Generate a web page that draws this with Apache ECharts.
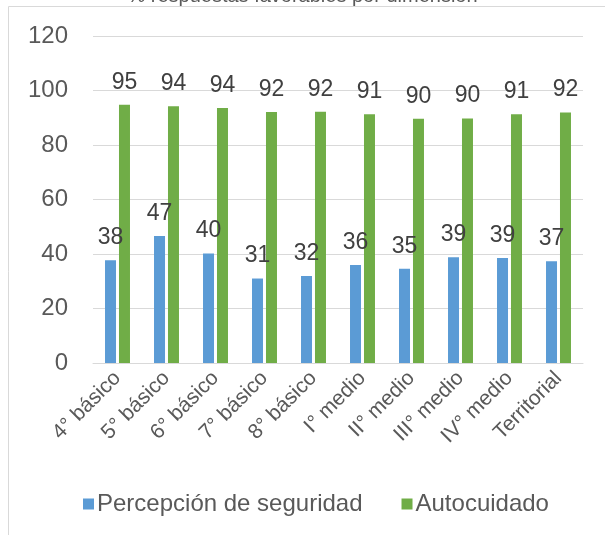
<!DOCTYPE html>
<html>
<head>
<meta charset="utf-8">
<script src="https://cdn.jsdelivr.net/npm/echarts@6/dist/echarts.min.js"></script>
<style>
  html, body { margin: 0; padding: 0; background: #fff; }
  #chart { width: 605px; height: 535px; }
</style>
</head>
<body>
<div id="chart"></div>
<script>
const categories = ['4° básico', '5° básico', '6° básico', '7° básico', '8° básico',
  'I° medio', 'II° medio', 'III° medio', 'IV° medio', 'Territorial'];
const seguridad = [37.7, 46.6, 40.2, 31.0, 31.9, 36.0, 34.6, 38.8, 38.5, 37.3];
const autocuidado = [94.8, 94.2, 93.6, 92.1, 92.2, 91.3, 89.6, 89.7, 91.3, 91.9];
const yTicks = { min: 0, max: 120, interval: 20 };

const font = '"Liberation Sans", Arial, sans-serif';
const chart = echarts.init(document.getElementById('chart'), null, { renderer: 'canvas' });

const labelStyle = {
  show: true,
  position: 'top',
  distance: 11,
  color: '#404040',
  fontSize: 23,
  fontFamily: font,
  formatter: (p) => Math.round(p.value)
};

chart.setOption({
  animation: false,
  title: {
    text: '% respuestas favorables por dimensión',
    left: 'center',
    top: -19,
    textStyle: { color: '#595959', fontSize: 20, fontWeight: 'normal', fontFamily: font }
  },
  graphic: [{
    type: 'rect',
    shape: { x: 8.5, y: 6.5, width: 640, height: 560 },
    style: { fill: 'none', stroke: '#d9d9d9', lineWidth: 1 },
    z: -1
  }],
  grid: { left: 93, right: 22, top: 36, bottom: 172 },
  legend: {
    left: 78,
    top: 487,
    itemWidth: 11,
    itemHeight: 11,
    itemGap: 39,
    icon: 'rect',
    textStyle: { color: '#595959', fontSize: 24, fontFamily: font, padding: [0, 0, 0, -2] },
    data: ['Percepción de seguridad', 'Autocuidado']
  },
  xAxis: {
    type: 'category',
    data: categories,
    axisLine: { lineStyle: { color: '#d9d9d9', width: 1 } },
    axisTick: { show: false },
    axisLabel: {
      interval: 0,
      rotate: 45,
      margin: 12,
      color: '#595959',
      fontSize: 21,
      fontFamily: font
    }
  },
  yAxis: {
    type: 'value',
    min: yTicks.min,
    max: yTicks.max,
    interval: yTicks.interval,
    axisLine: { show: false },
    axisTick: { show: false },
    splitLine: { lineStyle: { color: '#d9d9d9', width: 1 } },
    axisLabel: { margin: 25, color: '#595959', fontSize: 24, fontFamily: font }
  },
  series: [
    {
      name: 'Percepción de seguridad',
      type: 'bar',
      data: seguridad,
      barWidth: 11,
      barGap: '27%',
      itemStyle: { color: '#5b9bd5' },
      label: labelStyle
    },
    {
      name: 'Autocuidado',
      type: 'bar',
      data: autocuidado,
      barWidth: 11,
      itemStyle: { color: '#70ad47' },
      label: labelStyle
    }
  ]
});
</script>
</body>
</html>
